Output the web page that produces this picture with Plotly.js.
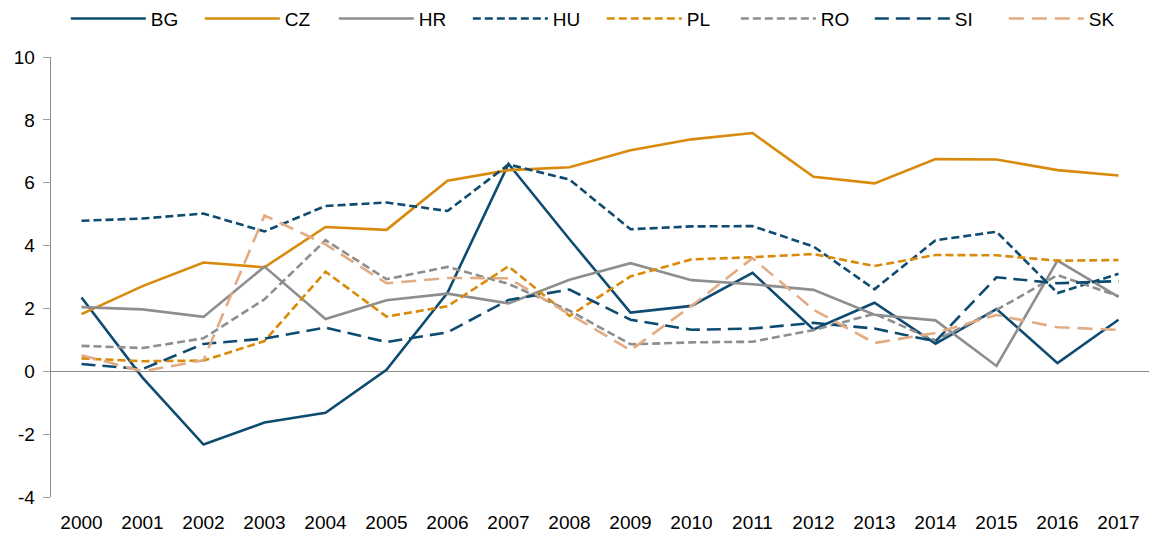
<!DOCTYPE html>
<html>
<head>
<meta charset="utf-8">
<script src="https://cdn.plot.ly/plotly-3.0.1.min.js"></script>
<style>html,body{margin:0;padding:0;background:#fff;}#chart{width:1153px;height:540px;}</style>
</head>
<body>
<div id="chart"></div>
<script>
const years = ["2000","2001","2002","2003","2004","2005","2006","2007","2008","2009","2010","2011","2012","2013","2014","2015","2016","2017"];
const BG = [2.35,-0.2,-2.33,-1.63,-1.32,0.05,2.5,6.6,4.2,1.87,2.08,3.13,1.33,2.18,0.88,1.98,0.26,1.64];
const CZ = [1.82,2.71,3.46,3.31,4.59,4.5,6.06,6.4,6.49,7.03,7.38,7.58,6.19,5.98,6.75,6.74,6.4,6.23];
const HR = [2.04,1.97,1.73,3.33,1.66,2.26,2.47,2.16,2.91,3.44,2.9,2.77,2.59,1.8,1.62,0.17,3.52,2.37];
const HU = [4.79,4.86,5.02,4.45,5.26,5.37,5.1,6.58,6.1,4.52,4.61,4.62,3.97,2.61,4.17,4.44,2.49,3.1];
const PL = [0.41,0.32,0.34,0.96,3.17,1.74,2.07,3.34,1.76,3.02,3.56,3.63,3.73,3.35,3.7,3.69,3.52,3.54];
const RO = [0.81,0.74,1.05,2.29,4.17,2.93,3.32,2.78,1.93,0.86,0.92,0.94,1.31,1.83,0.98,1.95,3.06,2.39];
const SI = [0.23,0.07,0.87,1.04,1.39,0.93,1.24,2.27,2.6,1.64,1.32,1.36,1.54,1.36,0.95,2.99,2.8,2.87];
const SK = [0.51,0.0,0.35,4.96,4.04,2.8,2.97,2.96,1.82,0.67,2.08,3.6,1.96,0.9,1.22,1.79,1.4,1.32];
const yTickVals = [-4,-2,0,2,4,6,8,10];
const yTickText = ["-4","-2","0","2","4","6","8","10"];

const names = ["BG","CZ","HR","HU","PL","RO","SI","SK"];
const series = [BG,CZ,HR,HU,PL,RO,SI,SK];
const BLUE = "#0e4b71", ORANGE = "#d98a0b", GREY = "#8e8e8e", TAN = "#e3ab82";
const styles = [
  {color: BLUE, dash: "solid"},
  {color: ORANGE, dash: "solid"},
  {color: GREY, dash: "solid"},
  {color: BLUE, dash: "8px,4px"},
  {color: ORANGE, dash: "8px,4px"},
  {color: GREY, dash: "8px,4px"},
  {color: BLUE, dash: "14px,7px"},
  {color: TAN, dash: "15px,8px"}
];

const traces = names.map((n, i) => ({
  x: years, y: series[i], name: n, type: "scatter", mode: "lines",
  line: {color: styles[i].color, width: 2.6, dash: styles[i].dash}
}));

const layout = {
  width: 1153, height: 540,
  margin: {l: 51, r: 4, t: 57, b: 43, autoexpand: false},
  paper_bgcolor: "#fff", plot_bgcolor: "#fff",
  font: {family: "Liberation Sans, Arial, sans-serif", size: 19, color: "#000"},
  showlegend: true,
  legend: {
    orientation: "h", x: 0.0135, xanchor: "left", y: 1.087, yanchor: "middle",
    itemwidth: 75, entrywidth: 44, entrywidthmode: "pixels",
    font: {size: 19, color: "#000"}, traceorder: "normal"
  },
  xaxis: {
    type: "category", range: [-0.5, 17.5], showgrid: false, showline: false,
    zeroline: false, ticks: "", tickfont: {size: 19}, ticklabelstandoff: 12,
    fixedrange: true
  },
  yaxis: {
    range: [-4, 10], tickmode: "array", tickvals: yTickVals, ticktext: yTickText,
    showgrid: false, showline: true,
    linecolor: "#8c8c8c", linewidth: 1.3, ticks: "outside", ticklen: 7,
    tickcolor: "#a0a0a0", tickwidth: 1, zeroline: true, zerolinecolor: "#8c8c8c",
    zerolinewidth: 1.3, tickfont: {size: 19}, ticklabelstandoff: 4, fixedrange: true
  }
};

Plotly.newPlot("chart", traces, layout, {displayModeBar: false, staticPlot: true});
</script>
</body>
</html>
